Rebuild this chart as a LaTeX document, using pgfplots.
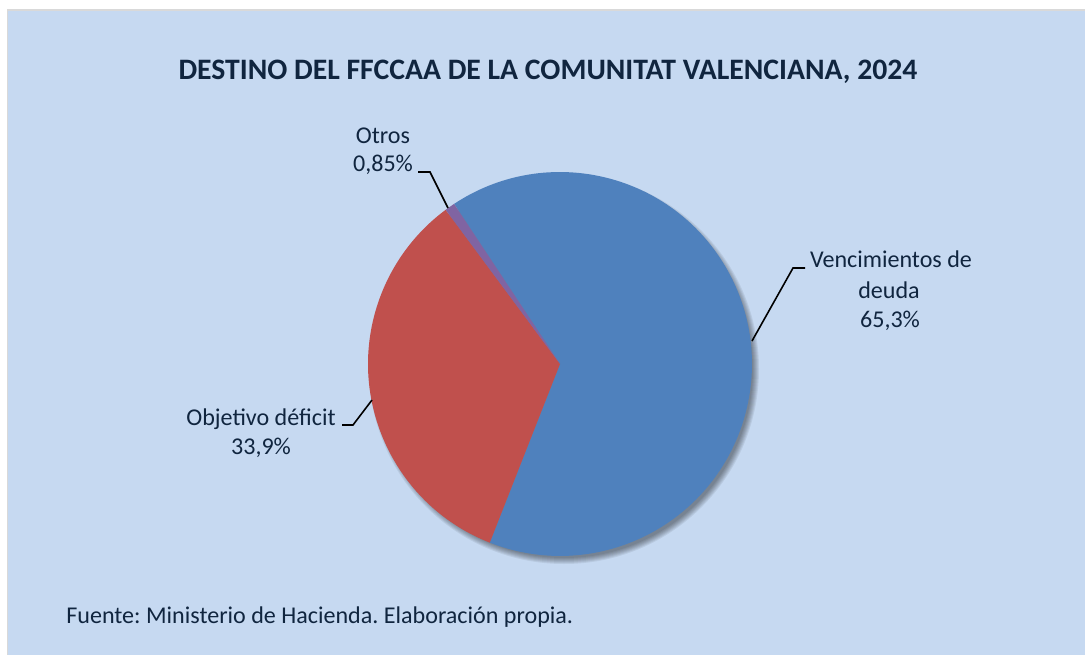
\documentclass[border=0pt]{standalone}
\usepackage{pgfplots}
\pgfplotsset{compat=1.18}
\usepackage{pgfplotstable}
\usepackage{fontspec}
\setmainfont{Carlito}
\frenchspacing

\definecolor{bgblue}{RGB}{198,217,241}
\definecolor{frame}{RGB}{217,217,217}
\definecolor{txt}{RGB}{16,37,63}
\definecolor{venc}{RGB}{79,129,189}
\definecolor{obj}{RGB}{192,80,77}
\definecolor{otros}{RGB}{128,100,162}

% porcentajes del grafico
\pgfplotstableread{
value
65.3
33.9
0.85
}\piedata

\pgfplotstablegetelem{0}{value}\of\piedata \let\va\pgfplotsretval
\pgfplotstablegetelem{1}{value}\of\piedata \let\vb\pgfplotsretval
\pgfplotstablegetelem{2}{value}\of\piedata \let\vc\pgfplotsretval
\pgfmathsetmacro\tot{\va+\vb+\vc}
\pgfmathsetmacro\aA{123.5}
\pgfmathsetmacro\aB{\aA-\va/\tot*360}
\pgfmathsetmacro\aC{\aB-\vb/\tot*360}
\pgfmathsetmacro\aD{\aC-\vc/\tot*360}

\begin{document}
\begin{tikzpicture}
\begin{axis}[
    x=0.02cm, y=0.02cm,
    xmin=0, xmax=1085, ymin=0, ymax=655,
    y dir=reverse,
    hide axis, clip=false,
]
% fondo
\fill[white] (axis cs:0,0) rectangle (axis cs:1085,655);
\fill[frame] (axis cs:7,9) rectangle (axis cs:1085,655);
\fill[bgblue] (axis cs:8,11) rectangle (axis cs:1085,655);

% sombra
\pgfplotsinvokeforeach{0,1,2,3,4,5,6}{
  \fill[black, opacity=0.065] (axis cs:564,369) circle[radius={(189+#1)*0.02cm}];
}

% sectores
\fill[venc] (axis cs:560,364) -- ++(\aA:3.84cm) arc[start angle=\aA, end angle=\aB, radius=3.84cm] -- cycle;
\fill[obj] (axis cs:560,364) -- ++(\aB:3.84cm) arc[start angle=\aB, end angle=\aC, radius=3.84cm] -- cycle;
\fill[otros] (axis cs:560,364) -- ++(\aC:3.84cm) arc[start angle=\aC, end angle=\aD, radius=3.84cm] -- cycle;

% lineas guia
\draw[black, line width=0.9pt] (axis cs:418,172) -- (axis cs:430,172) -- (axis cs:448,208);
\draw[black, line width=0.9pt] (axis cs:752,341) -- (axis cs:793,268) -- (axis cs:805,268);
\draw[black, line width=0.9pt] (axis cs:342,425) -- (axis cs:353,425) -- (axis cs:372,400);

% textos
\node[anchor=base, txt, font=\fontsize{16.9}{20}\selectfont\bfseries] at (axis cs:548,80)
  {DESTINO DEL FFCCAA DE LA COMUNITAT VALENCIANA, 2024};
\begin{scope}[every node/.style={anchor=base, txt, font=\fontsize{13.7}{16}\selectfont}]
\node at (axis cs:383,144) {Otros};
\node at (axis cs:383,172) {0,85\%};
\node at (axis cs:891,268) {Vencimientos de};
\node at (axis cs:889,298) {deuda};
\node at (axis cs:890,327) {65,3\%};
\node at (axis cs:261,425) {Objetivo déficit};
\node at (axis cs:261,454) {33,9\%};
\node[anchor=base west, inner xsep=0pt] at (axis cs:66,623) {Fuente: Ministerio de Hacienda. Elaboración propia.};
\end{scope}
\end{axis}
\end{tikzpicture}
\end{document}
